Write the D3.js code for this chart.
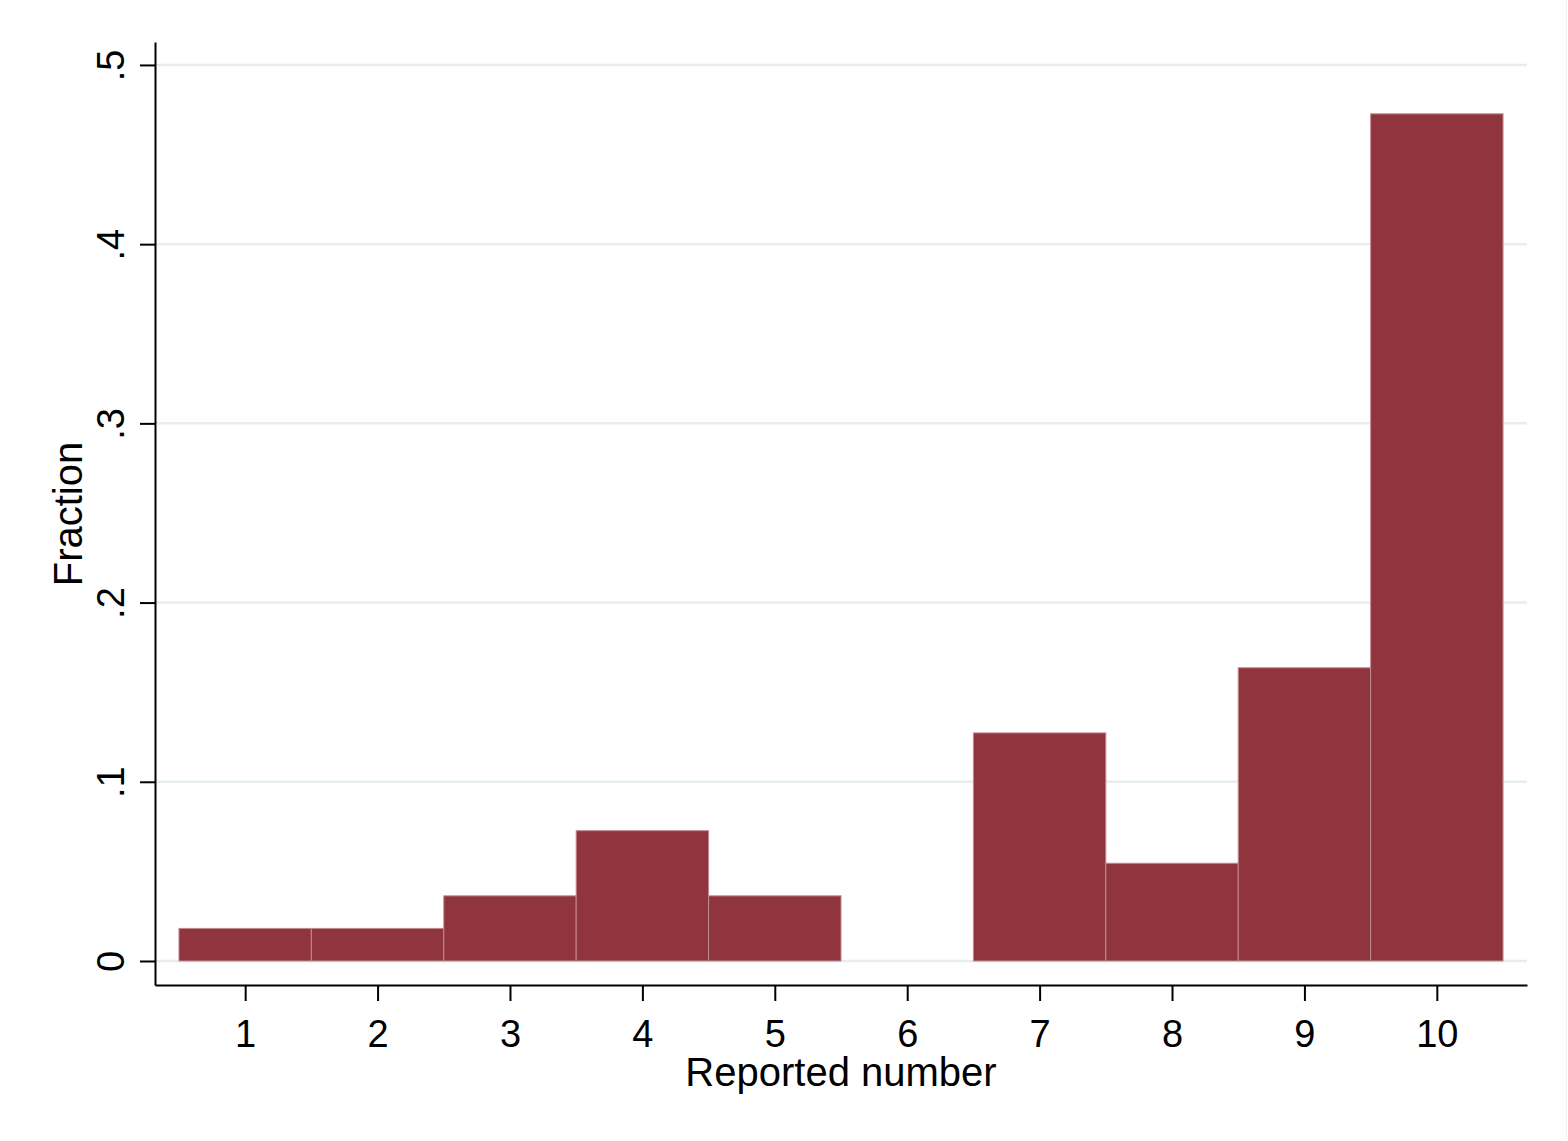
<!DOCTYPE html>
<html><head><meta charset="utf-8">
<script src="https://cdnjs.cloudflare.com/ajax/libs/d3/7.8.5/d3.min.js"></script>
<style>body{margin:0;background:#fff}svg{display:block}text{font-family:"Liberation Sans",Arial,sans-serif}</style>
</head><body>
<script>
const categories = [1,2,3,4,5,6,7,8,9,10];
const fractions = [1/55,1/55,2/55,4/55,2/55,0,7/55,3/55,9/55,26/55];
const yTicks = [0,0.1,0.2,0.3,0.4,0.5];
const yTickLabels = ["0",".1",".2",".3",".4",".5"];
const xTicks = [1,2,3,4,5,6,7,8,9,10];
const xTitle = "Reported number";
const yTitle = "Fraction";

const W=1568,H=1141;
const svg=d3.select("body").append("svg").attr("width",W).attr("height",H);
svg.append("rect").attr("width",W).attr("height",H).attr("fill","#fff");
svg.append("line").attr("x1",W-1.5).attr("x2",W-1.5).attr("y1",0).attr("y2",H).attr("stroke","#eef2f4").attr("stroke-width",1);
const x=d3.scaleLinear().domain([0.319,10.681]).range([155,1527]);
const y=d3.scaleLinear().domain([-0.0134,0.5128]).range([985,42]);

// grid
svg.append("g").selectAll("line").data(yTicks).join("line")
 .attr("x1",156).attr("x2",1527).attr("y1",d=>y(d)).attr("y2",d=>y(d))
 .attr("stroke","#e6eef0").attr("stroke-width",2.5);

// bars
svg.append("g").selectAll("rect").data(categories.map((c,i)=>({c,v:fractions[i]})).filter(d=>d.v>0)).join("rect")
 .attr("x",d=>x(d.c-0.5)).attr("width",d=>x(d.c+0.5)-x(d.c-0.5))
 .attr("y",d=>y(d.v)).attr("height",d=>y(0)-y(d.v))
 .attr("fill","#90353e").attr("stroke","#c08a90").attr("stroke-width",1);

// y axis
const ya=svg.append("g").attr("transform","translate(155,0)")
 .call(d3.axisLeft(y).tickValues(yTicks).tickFormat((d,i)=>yTickLabels[i]).tickSize(15).tickSizeOuter(0));
ya.select(".domain").attr("stroke","#000").attr("stroke-width",2);
ya.selectAll(".tick line").attr("stroke","#000").attr("stroke-width",2);
ya.selectAll(".tick text").attr("font-size",38).attr("fill","#000")
 .attr("font-family","Liberation Sans, Arial, sans-serif")
 .attr("transform","translate(-31,0) rotate(-90)").attr("text-anchor","middle").attr("x",0).attr("y",0).attr("dy","0");

// x axis
const xa=svg.append("g").attr("transform","translate(0,985)")
 .call(d3.axisBottom(x).tickValues(xTicks).tickFormat(d3.format("d")).tickSize(16).tickSizeOuter(0));
xa.select(".domain").attr("stroke","#000").attr("stroke-width",2);
xa.selectAll(".tick line").attr("stroke","#000").attr("stroke-width",2);
xa.selectAll(".tick text").attr("font-size",38).attr("fill","#000").attr("y",62).attr("dy",null)
 .attr("font-family","Liberation Sans, Arial, sans-serif");

svg.append("text").attr("x",841).attr("y",1086).attr("text-anchor","middle").attr("font-size",40).text(xTitle);
svg.append("text").attr("transform","translate(82,514) rotate(-90)").attr("text-anchor","middle").attr("font-size",40).text(yTitle);
</script>
</body></html>
